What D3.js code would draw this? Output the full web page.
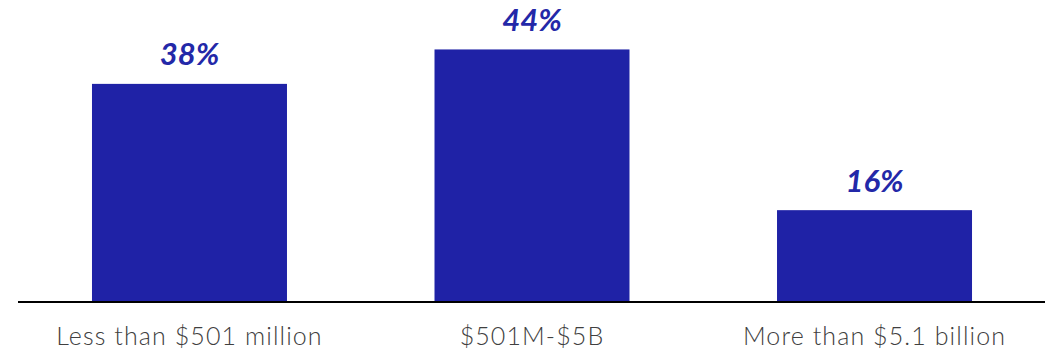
<!DOCTYPE html>
<html>
<head>
<meta charset="utf-8">
<script src="https://cdn.jsdelivr.net/npm/d3@7"></script>
<style>
  html, body { margin: 0; padding: 0; background: #ffffff; }
  svg { display: block; }
</style>
</head>
<body>
<svg id="chart" width="1054" height="354"></svg>
<script>
// Share of respondents by company revenue
const categories = ["Less than $501 million", "$501M-$5B", "More than $5.1 billion"];
const values = [38, 44, 16];
const valueLabels = ["38%", "44%", "16%"];

const svg = d3.select("#chart");
const baseY = 302;

const x = d3.scaleBand()
  .domain(categories)
  .range([18, 1046])
  .paddingInner(0.4307)
  .paddingOuter(0.216);

const y = d3.scaleLinear()
  .domain([0, 50])
  .range([baseY, baseY - 287]);

const data = categories.map((c, i) => ({ cat: c, v: values[i], label: valueLabels[i] }));

// Bars
svg.append("g")
  .selectAll("rect")
  .data(data)
  .join("rect")
  .attr("x", d => x(d.cat))
  .attr("y", d => y(d.v))
  .attr("width", x.bandwidth())
  .attr("height", d => y(0) - y(d.v))
  .attr("fill", "#1f22a6");

// Value labels above bars
svg.append("g")
  .selectAll("text")
  .data(data)
  .join("text")
  .attr("x", d => x(d.cat) + x.bandwidth() / 2)
  .attr("y", d => y(d.v) - 18.5)
  .attr("text-anchor", "middle")
  .attr("font-family", "Lato, 'DejaVu Sans', sans-serif")
  .attr("font-weight", "bold")
  .attr("font-style", "italic")
  .attr("font-size", 31)
  .attr("fill", "#2328a8")
  .text(d => d.label);

// Baseline axis with category labels
const axis = d3.axisBottom(x).tickSize(0).tickPadding(0);
const gx = svg.append("g")
  .attr("transform", `translate(0,${baseY})`)
  .call(axis);
gx.select(".domain").remove();
gx.selectAll(".tick text")
  .attr("y", 43)
  .attr("dy", null)
  .attr("font-family", "Lato, 'DejaVu Sans', sans-serif")
  .attr("font-weight", 300)
  .attr("font-size", 25)
  .attr("letter-spacing", "1.1px")
  .attr("fill", "#404040");

svg.append("line")
  .attr("x1", 18)
  .attr("x2", 1045)
  .attr("y1", baseY)
  .attr("y2", baseY)
  .attr("stroke", "#000")
  .attr("stroke-width", 2.2);
</script>
</body>
</html>
